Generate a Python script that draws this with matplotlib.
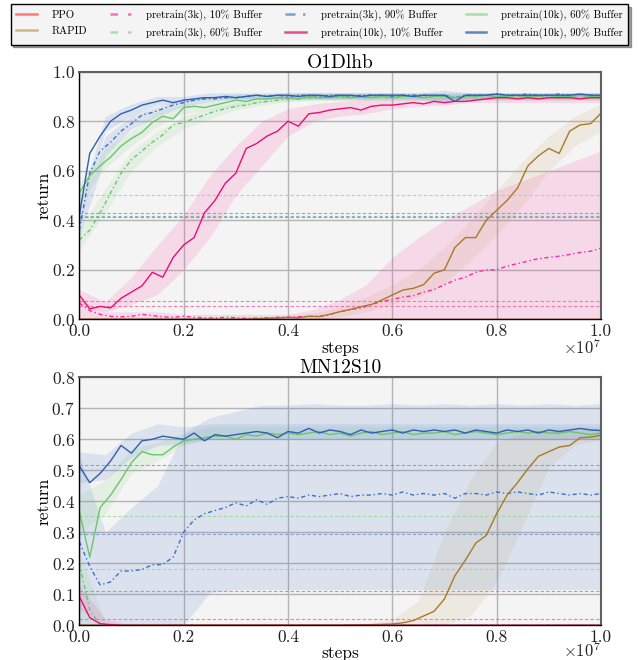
import numpy as np
import matplotlib
matplotlib.use('Agg')
import matplotlib.pyplot as plt
from matplotlib.lines import Line2D
from matplotlib.ticker import FuncFormatter

plt.rcParams['font.family'] = 'cmr10'
plt.rcParams['mathtext.fontset'] = 'cm'
plt.rcParams['axes.formatter.use_mathtext'] = True

# step grids (in env steps)
steps = np.linspace(0, 1e7, 51)
band_steps = np.linspace(0, 1e7, 21)

labels = ['PPO', 'RAPID', 'pretrain(3k), 10% Buffer', 'pretrain(3k), 60% Buffer',
          'pretrain(3k), 90% Buffer', 'pretrain(10k), 10% Buffer',
          'pretrain(10k), 60% Buffer', 'pretrain(10k), 90% Buffer']
line_colors = ['#ff3b3b', '#a87a28', '#ff2aa0', '#6cc46c', '#3a6fc8', '#e8106e', '#6cc46c', '#2f5fb0']
band_colors = ['#ff3b3b', '#c8a060', '#ff2aa0', '#7ad07a', '#3a6fc8', '#ff2aa0', '#7ad07a', '#3a6fc8']
legend_colors = ['#ff5050', '#c8a060', '#ff40b0', '#90d890', '#5080d0', '#e8106e', '#90d890', '#3060b0']
dashdot = (0, (3, 2, 1, 2))
styles = ['-', '-', dashdot, dashdot, dashdot, '-', '-', '-']
legend_styles = ['-', '-', (0, (3, 4)), (0, (3, 4)), (0, (4, 3, 1, 3)), '-', '-', '-']

# ---------------- O1Dlhb ----------------
o_ppo = [0.0] * 51
o_rapid = [0.0, 0.0, 0.0, 0.0, 0.0, 0.0, 0.0, 0.0, 0.0, 0.0, 0.0, 0.0, 0.0, 0.0, 0.0, 0.0,
           0.0, 0.002, 0.004, 0.005, 0.008, 0.006, 0.012, 0.011, 0.02, 0.031, 0.04, 0.051, 0.06,
           0.078, 0.098, 0.118, 0.125, 0.14, 0.186, 0.20, 0.29, 0.33, 0.33, 0.40, 0.44, 0.48,
           0.53, 0.62, 0.66, 0.69, 0.67, 0.76, 0.785, 0.79, 0.832]
o_3k10 = [0.066, 0.035, 0.02, 0.012, 0.01, 0.012, 0.02, 0.015, 0.01, 0.008, 0.012, 0.008,
          0.006, 0.005, 0.008, 0.006, 0.004, 0.005, 0.006, 0.008, 0.008, 0.01, 0.012, 0.012,
          0.02, 0.03, 0.04, 0.045, 0.06, 0.072, 0.08, 0.09, 0.095, 0.11, 0.12, 0.14, 0.158,
          0.17, 0.19, 0.20, 0.20, 0.215, 0.225, 0.235, 0.245, 0.25, 0.255, 0.262, 0.27, 0.275, 0.287]
o_3k60 = [0.32, 0.36, 0.43, 0.51, 0.59, 0.645, 0.68, 0.715, 0.745, 0.785, 0.795, 0.81, 0.825,
          0.84, 0.85, 0.86, 0.865, 0.875, 0.88, 0.885, 0.89, 0.89, 0.895, 0.895, 0.90, 0.895,
          0.90, 0.895, 0.90, 0.90, 0.895, 0.90, 0.90, 0.895, 0.90, 0.90, 0.895, 0.90, 0.90,
          0.905, 0.90, 0.905, 0.90, 0.90, 0.905, 0.90, 0.905, 0.90, 0.905, 0.90, 0.905]
o_3k90 = [0.36, 0.59, 0.68, 0.715, 0.76, 0.79, 0.825, 0.835, 0.85, 0.865, 0.875, 0.885, 0.89,
          0.89, 0.895, 0.895, 0.90, 0.905, 0.90, 0.905, 0.90, 0.905, 0.905, 0.90, 0.905, 0.905,
          0.90, 0.905, 0.905, 0.905, 0.90, 0.905, 0.905, 0.905, 0.90, 0.905, 0.895, 0.905, 0.905,
          0.905, 0.91, 0.905, 0.905, 0.91, 0.905, 0.905, 0.91, 0.905, 0.905, 0.905, 0.905]
o_10k10 = [0.098, 0.042, 0.052, 0.046, 0.085, 0.11, 0.135, 0.19, 0.17, 0.25, 0.30, 0.33,
           0.43, 0.48, 0.55, 0.59, 0.69, 0.71, 0.74, 0.76, 0.80, 0.78, 0.83, 0.835, 0.845,
           0.85, 0.855, 0.845, 0.86, 0.865, 0.865, 0.87, 0.875, 0.87, 0.88, 0.875, 0.88, 0.88,
           0.885, 0.89, 0.895, 0.895, 0.89, 0.895, 0.89, 0.895, 0.895, 0.895, 0.89, 0.895, 0.895]
o_10k60 = [0.51, 0.58, 0.62, 0.655, 0.70, 0.73, 0.755, 0.795, 0.82, 0.81, 0.855, 0.86, 0.855,
           0.865, 0.875, 0.885, 0.88, 0.89, 0.89, 0.895, 0.895, 0.89, 0.90, 0.895, 0.895, 0.90,
           0.895, 0.90, 0.895, 0.90, 0.895, 0.90, 0.90, 0.895, 0.90, 0.90, 0.895, 0.90, 0.90,
           0.905, 0.90, 0.90, 0.905, 0.90, 0.90, 0.905, 0.90, 0.90, 0.905, 0.90, 0.90]
o_10k90 = [0.42, 0.67, 0.74, 0.80, 0.83, 0.845, 0.865, 0.875, 0.885, 0.875, 0.885, 0.89, 0.895,
           0.895, 0.90, 0.895, 0.90, 0.905, 0.90, 0.905, 0.905, 0.90, 0.905, 0.905, 0.90, 0.905,
           0.905, 0.90, 0.905, 0.905, 0.905, 0.905, 0.90, 0.905, 0.905, 0.905, 0.88, 0.905, 0.905,
           0.905, 0.91, 0.905, 0.905, 0.905, 0.905, 0.905, 0.905, 0.905, 0.91, 0.905, 0.905]

o_lo = [
    [0.0] * 21,
    [0, 0, 0, 0, 0, 0, 0, 0, 0, 0, 0.01, 0.03, 0.06, 0.09, 0.14, 0.24, 0.34, 0.46, 0.60, 0.70, 0.76],
    [0.0] * 21,
    [0.28, 0.43, 0.60, 0.70, 0.77, 0.81, 0.845, 0.865, 0.88, 0.885, 0.885, 0.885, 0.885, 0.885,
     0.885, 0.885, 0.885, 0.885, 0.885, 0.885, 0.885],
    [0.33, 0.66, 0.77, 0.82, 0.86, 0.88, 0.89, 0.89, 0.89, 0.89, 0.89, 0.89, 0.89, 0.89, 0.89,
     0.89, 0.89, 0.89, 0.89, 0.89, 0.89],
    [0.06, 0.03, 0.06, 0.10, 0.20, 0.33, 0.50, 0.62, 0.74, 0.80, 0.82, 0.83, 0.85, 0.86, 0.865,
     0.875, 0.875, 0.875, 0.875, 0.875, 0.875],
    [0.47, 0.61, 0.70, 0.78, 0.83, 0.845, 0.86, 0.875, 0.88, 0.885, 0.885, 0.885, 0.885, 0.885,
     0.885, 0.885, 0.885, 0.885, 0.885, 0.885, 0.885],
    [0.38, 0.76, 0.82, 0.865, 0.875, 0.89, 0.89, 0.89, 0.89, 0.89, 0.89, 0.89, 0.89, 0.89, 0.88,
     0.89, 0.89, 0.89, 0.89, 0.89, 0.89],
]
o_hi = [
    [0.0] * 21,
    [0, 0, 0, 0, 0, 0, 0, 0.01, 0.015, 0.025, 0.05, 0.09, 0.14, 0.20, 0.29, 0.40, 0.52, 0.64,
     0.74, 0.82, 0.87],
    [0.08, 0.03, 0.03, 0.03, 0.02, 0.02, 0.02, 0.02, 0.02, 0.04, 0.08, 0.14, 0.25, 0.33, 0.40,
     0.46, 0.52, 0.56, 0.60, 0.64, 0.68],
    [0.36, 0.53, 0.68, 0.76, 0.82, 0.85, 0.875, 0.89, 0.90, 0.91, 0.91, 0.91, 0.91, 0.91, 0.91,
     0.91, 0.91, 0.91, 0.91, 0.91, 0.91],
    [0.40, 0.74, 0.82, 0.86, 0.89, 0.90, 0.91, 0.91, 0.915, 0.915, 0.915, 0.915, 0.915, 0.915,
     0.915, 0.915, 0.915, 0.915, 0.915, 0.915, 0.915],
    [0.12, 0.07, 0.17, 0.30, 0.42, 0.58, 0.70, 0.80, 0.85, 0.87, 0.88, 0.89, 0.89, 0.89, 0.895,
     0.905, 0.905, 0.905, 0.905, 0.905, 0.905],
    [0.55, 0.69, 0.76, 0.84, 0.87, 0.885, 0.895, 0.905, 0.91, 0.91, 0.91, 0.91, 0.91, 0.91,
     0.91, 0.91, 0.91, 0.91, 0.91, 0.91, 0.91],
    [0.46, 0.82, 0.87, 0.90, 0.90, 0.915, 0.915, 0.915, 0.915, 0.915, 0.915, 0.915, 0.915, 0.915,
     0.925, 0.915, 0.915, 0.915, 0.915, 0.915, 0.915],
]
o_ref_vals = [0.075, 0.052, 0.502, 0.417, 0.428, 0.414]
o_ref_cols = ['#f060a0', '#f060a0', '#90d890', '#70b0a0', '#7090d0', '#7090d0']

# ---------------- MN12S10 ----------------
m_ppo = [0.0] * 51
m_rapid = [0.0, 0.0, 0.0, 0.0, 0.0, 0.0, 0.0, 0.0, 0.0, 0.0, 0.0, 0.0, 0.0, 0.0, 0.0, 0.0,
           0.0, 0.0, 0.0, 0.0, 0.0, 0.0, 0.0, 0.0, 0.0, 0.0, 0.001, 0.002, 0.002, 0.003, 0.004,
           0.008, 0.015, 0.03, 0.045, 0.085, 0.16, 0.21, 0.265, 0.29, 0.36, 0.42, 0.46, 0.505,
           0.545, 0.56, 0.575, 0.58, 0.605, 0.607, 0.613]
m_3k10 = [0.0] * 51
m_3k60 = [0.20, 0.05, 0.0, 0.0, 0.0, 0.0, 0.0, 0.0, 0.0, 0.0, 0.0, 0.0, 0.0, 0.0, 0.0, 0.0,
          0.0, 0.0, 0.0, 0.0, 0.0, 0.0, 0.0, 0.0, 0.0, 0.0, 0.0, 0.0, 0.0, 0.0, 0.0, 0.0, 0.0,
          0.0, 0.0, 0.0, 0.0, 0.0, 0.0, 0.0, 0.0, 0.0, 0.0, 0.0, 0.0, 0.0, 0.0, 0.0, 0.0, 0.0, 0.0]
m_3k90 = [0.27, 0.19, 0.13, 0.14, 0.175, 0.175, 0.18, 0.195, 0.196, 0.22, 0.30, 0.34, 0.36,
          0.37, 0.38, 0.395, 0.385, 0.405, 0.39, 0.41, 0.415, 0.41, 0.42, 0.415, 0.42, 0.425,
          0.415, 0.42, 0.42, 0.425, 0.42, 0.43, 0.42, 0.425, 0.42, 0.425, 0.41, 0.425, 0.425,
          0.42, 0.43, 0.425, 0.43, 0.425, 0.42, 0.43, 0.425, 0.42, 0.425, 0.42, 0.425]
m_10k10 = [0.093, 0.025, 0.005, 0.002, 0.0, 0.0, 0.0, 0.0, 0.0, 0.0, 0.0, 0.0, 0.0, 0.0, 0.0,
           0.0, 0.0, 0.0, 0.0, 0.0, 0.0, 0.0, 0.0, 0.0, 0.0, 0.0, 0.0, 0.0, 0.0, 0.0, 0.0, 0.0,
           0.0, 0.0, 0.0, 0.0, 0.0, 0.0, 0.0, 0.0, 0.0, 0.0, 0.0, 0.0, 0.0, 0.0, 0.0, 0.0, 0.0, 0.0, 0.0]
m_10k60 = [0.367, 0.22, 0.38, 0.42, 0.47, 0.525, 0.56, 0.55, 0.55, 0.575, 0.595, 0.60, 0.605,
           0.61, 0.61, 0.60, 0.615, 0.61, 0.62, 0.615, 0.62, 0.615, 0.62, 0.625, 0.615, 0.62,
           0.61, 0.62, 0.625, 0.615, 0.62, 0.625, 0.615, 0.62, 0.62, 0.625, 0.615, 0.62, 0.625,
           0.62, 0.615, 0.62, 0.625, 0.62, 0.625, 0.62, 0.62, 0.625, 0.62, 0.615, 0.62]
m_10k90 = [0.514, 0.46, 0.49, 0.53, 0.58, 0.555, 0.595, 0.60, 0.61, 0.605, 0.60, 0.62, 0.595,
           0.615, 0.61, 0.615, 0.62, 0.625, 0.62, 0.605, 0.625, 0.62, 0.635, 0.62, 0.63, 0.625,
           0.615, 0.63, 0.62, 0.625, 0.63, 0.62, 0.63, 0.625, 0.63, 0.625, 0.63, 0.62, 0.63,
           0.625, 0.62, 0.63, 0.625, 0.63, 0.62, 0.63, 0.625, 0.63, 0.635, 0.63, 0.628]

m_lo = [
    [0.0] * 21,
    [0, 0, 0, 0, 0, 0, 0, 0, 0, 0, 0, 0, 0, 0, 0, 0.03, 0.14, 0.32, 0.51, 0.58, 0.60],
    [0.0] * 21,
    [0.0] * 21,
    [0.0, 0.0, 0.0, 0.0, 0.0, 0.105, 0.115, 0.115, 0.115, 0.115, 0.115, 0.115, 0.115, 0.115,
     0.115, 0.115, 0.115, 0.115, 0.115, 0.115, 0.115],
    [0.05] + [0.0] * 20,
    [0.30, 0.36, 0.49, 0.53, 0.58, 0.60, 0.60, 0.60, 0.60, 0.60, 0.60, 0.60, 0.60, 0.60, 0.60,
     0.60, 0.60, 0.60, 0.60, 0.60, 0.60],
    [0.46, 0.47, 0.54, 0.58, 0.585, 0.60, 0.60, 0.60, 0.60, 0.60, 0.60, 0.60, 0.60, 0.60, 0.60,
     0.60, 0.60, 0.60, 0.60, 0.60, 0.60],
]
m_hi = [
    [0.0] * 21,
    [0, 0, 0, 0, 0, 0, 0, 0, 0, 0, 0, 0.005, 0.02, 0.08, 0.30, 0.47, 0.59, 0.62, 0.63, 0.635, 0.635],
    [0.0] * 21,
    [0.24, 0.01, 0.0, 0.0, 0.0, 0.0, 0.0, 0.0, 0.0, 0.0, 0.0, 0.0, 0.0, 0.0, 0.0, 0.0, 0.0,
     0.0, 0.0, 0.0, 0.0],
    [0.55, 0.30, 0.38, 0.45, 0.62, 0.67, 0.69, 0.71, 0.71, 0.715, 0.71, 0.71, 0.715, 0.71,
     0.715, 0.71, 0.715, 0.71, 0.715, 0.71, 0.715],
    [0.13, 0.02] + [0.0] * 19,
    [0.42, 0.47, 0.57, 0.59, 0.62, 0.64, 0.64, 0.64, 0.64, 0.64, 0.64, 0.64, 0.64, 0.64, 0.64,
     0.64, 0.64, 0.64, 0.64, 0.64, 0.64],
    [0.56, 0.55, 0.62, 0.65, 0.64, 0.65, 0.65, 0.65, 0.65, 0.65, 0.65, 0.65, 0.65, 0.65, 0.65,
     0.65, 0.65, 0.65, 0.65, 0.65, 0.65],
]
m_ref_vals = [0.112, 0.019, 0.352, 0.18, 0.517, 0.295]
m_ref_cols = ['#f060a0', '#f060a0', '#90d890', '#90d890', '#7090d0', '#7090d0']

o_means = [o_ppo, o_rapid, o_3k10, o_3k60, o_3k90, o_10k10, o_10k60, o_10k90]
m_means = [m_ppo, m_rapid, m_3k10, m_3k60, m_3k90, m_10k10, m_10k60, m_10k90]

fig = plt.figure(figsize=(6.39, 6.6), dpi=100)
ax_top = fig.add_axes([0.1241, 0.5162, 0.8164, 0.3752])
ax_bot = fig.add_axes([0.1241, 0.0526, 0.8164, 0.3758])

panels = [
    (ax_top, 'O1Dlhb', o_means, o_lo, o_hi, o_ref_vals, o_ref_cols, 1.0, 0.2, -0.072),
    (ax_bot, 'MN12S10', m_means, m_lo, m_hi, m_ref_vals, m_ref_cols, 0.8, 0.1, -0.061),
]

for ax, title, means, los, his, refs, ref_cols, ymax, ystep, off_y in panels:
    ax.set_facecolor('#f4f4f4')
    ax.grid(True, color='#b4b4b4', linewidth=1.0)
    ax.set_axisbelow(True)
    for i in range(8):
        ax.fill_between(band_steps, los[i], his[i], color=band_colors[i], alpha=0.13, linewidth=0)
    for v, c in zip(refs, ref_cols):
        ax.axhline(v, color=c, linestyle=(0, (3, 2)), linewidth=0.8, alpha=0.8)
    for i in [0, 4, 3, 2, 1, 6, 7, 5]:
        ax.plot(steps, means[i], color=line_colors[i], linestyle=styles[i], linewidth=1.0)
    ax.set_xlim(0, 1e7)
    ax.set_ylim(0, ymax)
    ax.set_yticks(np.arange(0, ymax + 1e-9, ystep))
    ax.set_xticks(np.arange(0, 1.01e7, 0.2e7))
    ax.xaxis.set_major_formatter(FuncFormatter(lambda v, p: f'{v / 1e7:.1f}'))
    ax.tick_params(length=0, pad=3, labelsize=12.5, colors='#222222')
    ax.text(1.0, off_y, r'$\times10^{7}$', transform=ax.transAxes, ha='right', va='top',
            fontsize=12, color='#222222')
    ax.set_title(title, fontsize=14, pad=2)
    ax.set_xlabel('steps', fontsize=12.5, labelpad=1)
    ax.set_ylabel('return', fontsize=12.5, labelpad=0)
    for s in ['left', 'bottom']:
        ax.spines[s].set_color('black')
        ax.spines[s].set_linewidth(1.0)
    for s in ['top', 'right']:
        ax.spines[s].set_color('#606060')
        ax.spines[s].set_linewidth(1.5)

handles = [Line2D([], [], color=legend_colors[i], linestyle=legend_styles[i],
                  linewidth=1.8, alpha=0.75) for i in range(8)]
leg = fig.legend(handles, labels, loc='upper center', bbox_to_anchor=(0.5, 0.997), ncol=4,
                 fontsize=7.8, frameon=True, fancybox=False, shadow=True,
                 edgecolor='black', facecolor='#f4f4f4', framealpha=1,
                 columnspacing=2.1, handlelength=1.9, handletextpad=1.4,
                 borderpad=0.5, labelspacing=0.55, borderaxespad=0.2)
leg.get_frame().set_linewidth(1.0)

fig.savefig('out.png', dpi=100)
